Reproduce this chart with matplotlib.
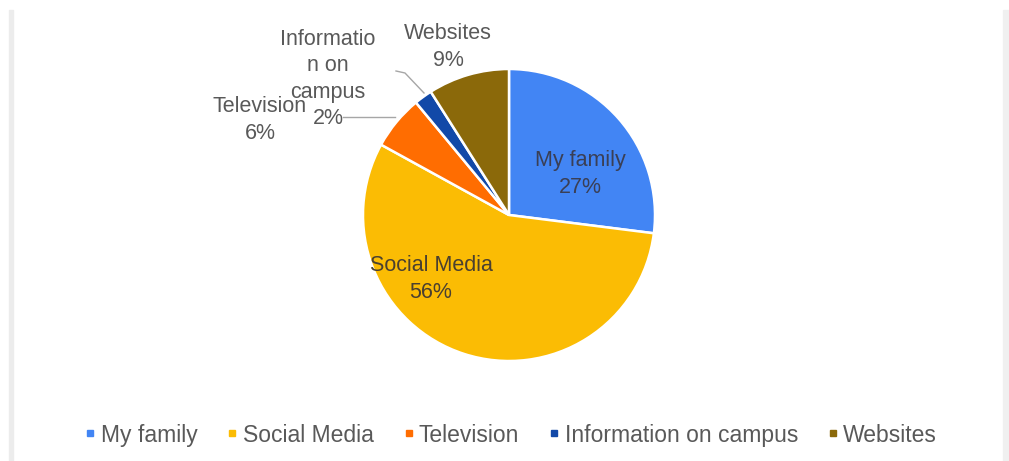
import matplotlib
matplotlib.use("Agg")
import matplotlib.pyplot as plt
from matplotlib.lines import Line2D
from matplotlib.patches import Rectangle

categories = ["My family", "Social Media", "Television", "Information on campus", "Websites"]
values = [27, 56, 6, 2, 9]
slice_labels = ["My family\n27%", "Social Media\n56%", "Television\n6%", "Informatio\nn on\ncampus\n2%", "Websites\n9%"]
colors = ["#4285F4", "#FBBC04", "#FF6D01", "#1249A8", "#8B690A"]

W, H = 1009, 461
fig = plt.figure(figsize=(W / 100, H / 100), dpi=100)
fig.patch.set_facecolor("white")
plt.rcParams['font.family'] = ['Liberation Sans', 'DejaVu Sans']

# side bands of frame
fig.patches.append(Rectangle((9 / W, 0), 4 / W, 451 / H, transform=fig.transFigure,
                             color="#ececec", zorder=0))
fig.patches.append(Rectangle((1003 / W, 0), 6 / W, 451 / H, transform=fig.transFigure,
                             color="#f0f0f0", zorder=0))

cx, cy, R = 509, 215, 146
ax = fig.add_axes([(cx - R) / W, (H - cy - R) / H, 2 * R / W, 2 * R / H])
ax.pie(values, colors=colors, startangle=90, counterclock=False, radius=1,
       wedgeprops=dict(edgecolor="white", linewidth=1.8))
ax.set_xlim(-1, 1)
ax.set_ylim(-1, 1)
ax.set_aspect("equal")
ax.axis("off")

def d(px, py):
    return ((px - cx) / R, (cy - py) / R)

label_pos = [(580, 174), (431, 279), (260, 120), (328, 79), (448, 47)]
label_cols = ["#3a3f55", "#4a4030", "#595959", "#595959", "#595959"]
for txt, (px, py), col in zip(slice_labels, label_pos, label_cols):
    x, y = d(px, py)
    ax.text(x, y, txt, ha="center", va="center", fontsize=15.5, color=col,
            linespacing=1.33, clip_on=False)

# leader lines
for pts in ([(343, 117), (395, 117)], [(396, 71), (405, 73), (424, 93)]):
    xs, ys = zip(*[d(*p) for p in pts])
    ax.plot(xs, ys, color="#a6a6a6", lw=1.0, clip_on=False)

handles = [Line2D([], [], marker="s", linestyle="none", markersize=5,
                  markerfacecolor=c, markeredgecolor=c) for c in colors]
fig.legend(handles, categories, loc="center", bbox_to_anchor=(512 / W, 26 / H), ncol=5,
           frameon=False, fontsize=16.5, handlelength=0.3, handletextpad=0.3,
           columnspacing=1.38, labelcolor="#595959")

fig.savefig("out.png", dpi=100, facecolor="white")
